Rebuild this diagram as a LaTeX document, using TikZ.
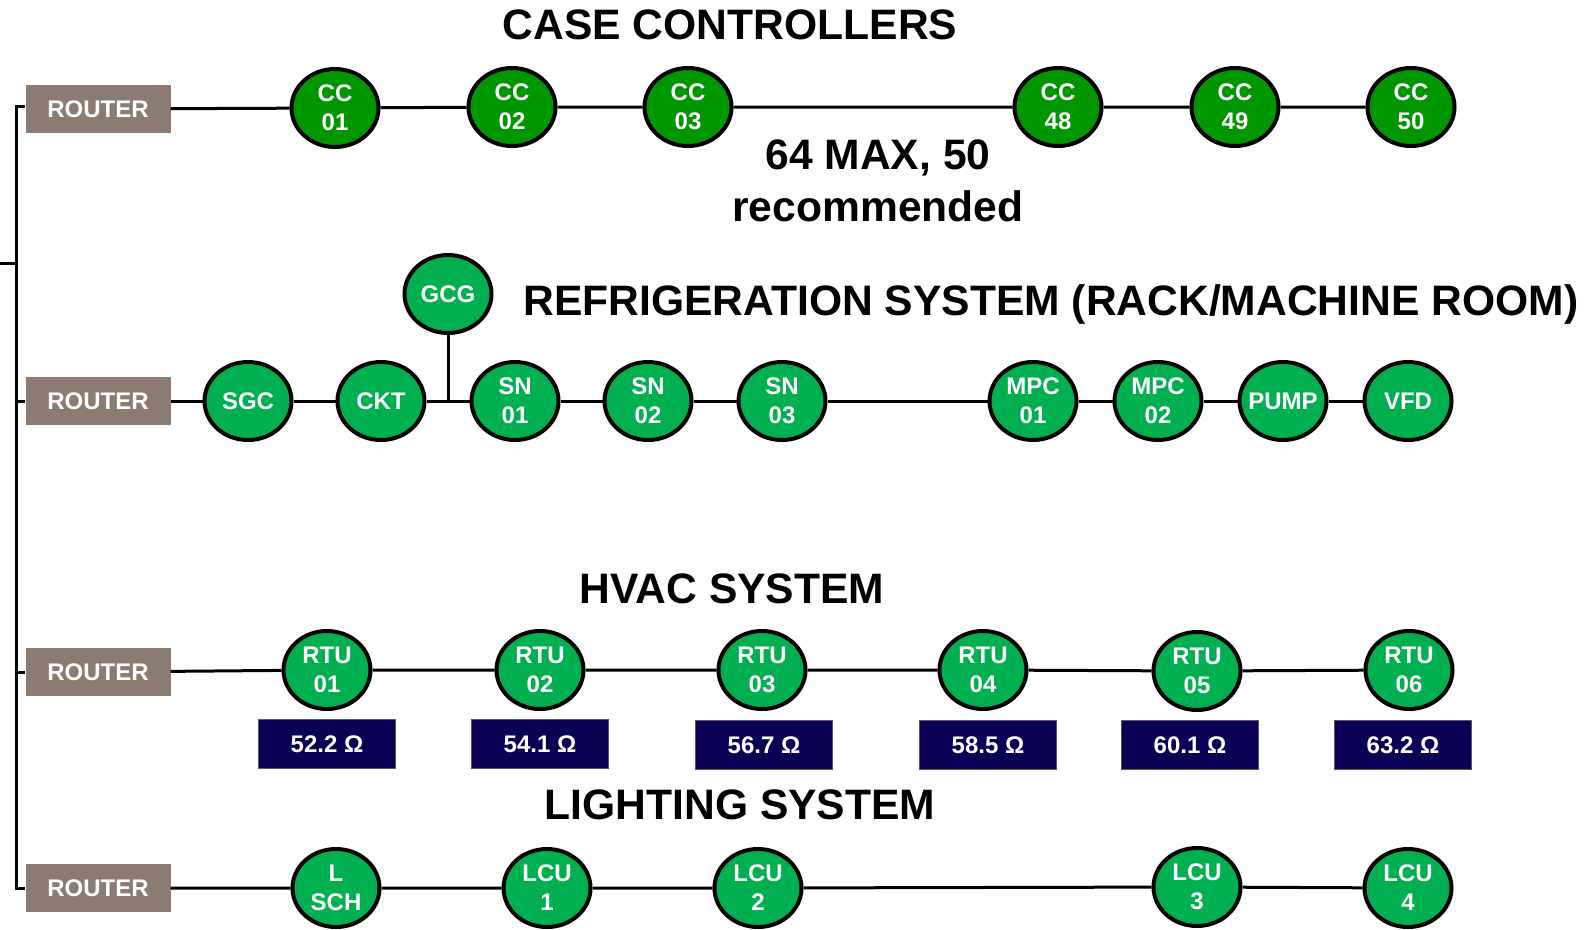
\documentclass[tikz,border=0pt]{standalone}
\usepackage{fontspec}
\setmainfont{Liberation Sans}
\usetikzlibrary{positioning,shapes.geometric}

\definecolor{ccgreen}{RGB}{0,150,0}
\definecolor{devgreen}{RGB}{0,176,80}
\definecolor{routergray}{RGB}{139,123,112}
\definecolor{ohmnavy}{RGB}{10,0,85}

\begin{document}
\begin{tikzpicture}[x=1pt,y=-1pt,
  dev/.style={ellipse,draw,line width=4pt,fill=devgreen,text=white,minimum width=87pt,minimum height=78pt,inner sep=-4pt,align=center,font=\fontsize{24}{29}\selectfont\bfseries},
  cc/.style={dev,fill=ccgreen},
  router/.style={fill=routergray,text=white,minimum width=145pt,minimum height=48pt,font=\fontsize{24}{29}\selectfont\bfseries},
  ohm/.style={draw=gray!70!black,line width=1.5pt,fill=ohmnavy,text=white,minimum width=137pt,minimum height=49pt,font=\fontsize{24}{29}\selectfont\bfseries},
  ttl/.style={font=\fontsize{42.6}{52}\selectfont\bfseries},
  wire/.style={line width=3pt}]
\useasboundingbox (0,0) rectangle (1586,929);

% titles
\node[ttl] (t1) at (730,25) {CASE CONTROLLERS};
\node[ttl,align=center] (tmax) at (878,181) {64 MAX, 50\\recommended};
\node[ttl,anchor=west] (t2) at (520,304) {REFRIGERATION SYSTEM (RACK/MACHINE ROOM)};
\node[ttl] (t3) at (732,589) {HVAC SYSTEM};
\node[ttl] (t4) at (740,805) {LIGHTING SYSTEM};

% routers
\node[router] (r1) at (98,109) {ROUTER};
\node[router] (r2) at (98,401) {ROUTER};
\node[router] (r3) at (98,672) {ROUTER};
\node[router] (r4) at (98,888) {ROUTER};

% case controllers
\node[cc] (cc01) at (335,108) {CC\\01};
\node[cc] (cc02) at (512,107) {CC\\02};
\node[cc] (cc03) at (688,107) {CC\\03};
\node[cc] (cc48) at (1058,107) {CC\\48};
\node[cc] (cc49) at (1235,107) {CC\\49};
\node[cc] (cc50) at (1411,107) {CC\\50};

% refrigeration
\node[dev] (sgc) at (248,401) {SGC};
\node[dev] (ckt) at (381,401) {CKT};
\node[dev] (gcg) at (448,294) {GCG};
\node[dev] (sn01) at (515,401) {SN\\01};
\node[dev] (sn02) at (648,401) {SN\\02};
\node[dev] (sn03) at (782,401) {SN\\03};
\node[dev] (mpc01) at (1033,401) {MPC\\01};
\node[dev] (mpc02) at (1158,401) {MPC\\02};
\node[dev] (pump) at (1283,401) {PUMP};
\node[dev] (vfd) at (1408,401) {VFD};

% hvac
\node[dev] (rtu01) at (327,670) {RTU\\01};
\node[dev] (rtu02) at (540,670) {RTU\\02};
\node[dev] (rtu03) at (762,670) {RTU\\03};
\node[dev] (rtu04) at (983,670) {RTU\\04};
\node[dev] (rtu05) at (1197,671) {RTU\\05};
\node[dev] (rtu06) at (1409,670) {RTU\\06};
\node[ohm] (ohm01) at (327,744) {52.2 Ω};
\node[ohm] (ohm02) at (540,744) {54.1 Ω};
\node[ohm] (ohm03) at (764,745) {56.7 Ω};
\node[ohm] (ohm04) at (988,745) {58.5 Ω};
\node[ohm] (ohm05) at (1190,745) {60.1 Ω};
\node[ohm] (ohm06) at (1403,745) {63.2 Ω};

% lighting
\node[dev] (lsch) at (336,888) {L\\SCH};
\node[dev] (lcu1) at (547,888) {LCU\\1};
\node[dev] (lcu2) at (758,888) {LCU\\2};
\node[dev] (lcu3) at (1197,887) {LCU\\3};
\node[dev] (lcu4) at (1408,888) {LCU\\4};

% wiring
\draw[wire] (r1)--(cc01)--(cc02)--(cc03)--(cc48)--(cc49)--(cc50);
\draw[wire] (r2)--(sgc)--(ckt)--(sn01)--(sn02)--(sn03)--(mpc01)--(mpc02)--(pump)--(vfd);
\draw[wire] (gcg)--(gcg |- ckt);
\draw[wire] (r3)--(rtu01)--(rtu02)--(rtu03)--(rtu04)--(rtu05)--(rtu06);
\draw[wire] (r4)--(lsch)--(lcu1)--(lcu2)--(lcu3)--(lcu4);

% bus
\coordinate (bus) at (16,106);
\coordinate (stub) at (0,263);
\draw[wire] (r1.west |- bus)--(bus)--(r4.west -| bus)--(r4.west);
\draw[wire] (r2.west)--(r2.west -| bus);
\draw[wire] (r3.west)--(r3.west -| bus);
\draw[wire] (stub)--(stub -| bus);
\end{tikzpicture}
\end{document}
